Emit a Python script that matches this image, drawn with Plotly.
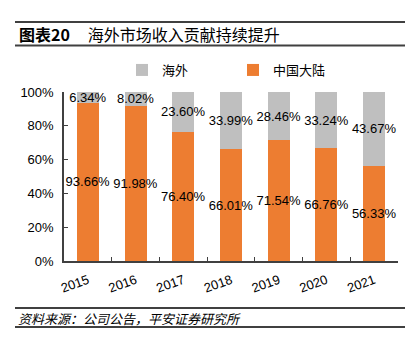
import plotly.graph_objects as go

years = ["2015", "2016", "2017", "2018", "2019", "2020", "2021"]
domestic = [93.66, 91.98, 76.40, 66.01, 71.54, 66.76, 56.33]
overseas = [6.34, 8.02, 23.60, 33.99, 28.46, 33.24, 43.67]
series_names = ["中国大陆", "海外"]
colors = ["#ED7D31", "#BFBFBF"]
y_ticks = [0, 20, 40, 60, 80, 100]
y_tick_labels = ["0%", "20%", "40%", "60%", "80%", "100%"]
title_text = "<b>图表20</b>     海外市场收入贡献持续提升"
source_text = "<i>资料来源：公司公告，平安证券研究所</i>"

FONT = "Liberation Sans, Arial, Noto Sans CJK SC, sans-serif"
CJK = "Noto Sans CJK SC, Liberation Sans, sans-serif"

W, H = 415, 345
L, R, T, B = 64, 17, 92, 84
pw, ph = W - L - R, H - T - B

def px(x):
    return (x - L) / pw

def py(y):
    return (H - B - y) / ph

fig = go.Figure()
for name, vals, col in zip(series_names, [domestic, overseas], colors):
    fig.add_trace(go.Bar(
        x=years, y=vals, name=name,
        marker=dict(color=col, line=dict(width=0)),
        width=0.46,
        texttemplate="%{y:.2f}%",
        textposition="inside",
        insidetextanchor="middle",
        textangle=0,
        constraintext="none",
        insidetextfont=dict(color="#000000", size=13, family=FONT),
        cliponaxis=False,
    ))

fig.update_layout(
    width=W, height=H,
    margin=dict(l=L, r=R, t=T, b=B),
    barmode="stack",
    plot_bgcolor="white", paper_bgcolor="white",
    font=dict(family=FONT, size=13, color="#000000"),
    uniformtext=dict(minsize=13, mode="show"),
    showlegend=True,
    legend=dict(
        orientation="h", traceorder="reversed",
        x=px(122), y=py(70), xanchor="left", yanchor="middle",
        font=dict(family=CJK, size=13, color="#000000"),
        entrywidth=66, entrywidthmode="pixels",
        itemwidth=30, bgcolor="rgba(0,0,0,0)",
    ),
    xaxis=dict(
        showline=True, linecolor="#404040", linewidth=1.5,
        ticks="inside", tickson="boundaries", ticklen=4, tickcolor="#404040",
        tickangle=-20, tickfont=dict(size=13, family=FONT),
        ticklabelstandoff=5,
        showgrid=False, zeroline=False,
    ),
    yaxis=dict(
        range=[0, 100], tickvals=y_ticks, ticktext=y_tick_labels,
        showline=True, linecolor="#404040", linewidth=1.5,
        ticks="inside", ticklen=4, tickcolor="#404040",
        tickfont=dict(size=13, family=FONT),
        ticklabelstandoff=6,
        showgrid=False, zeroline=False,
    ),
)

line_style = dict(color="#404040", width=2)
for yy in (22, 45.5, 308, 327):
    fig.add_shape(type="line", xref="paper", yref="paper",
                  x0=px(15), x1=px(405), y0=py(yy), y1=py(yy),
                  line=line_style)

fig.add_annotation(text=title_text, xref="paper", yref="paper",
                   x=px(17), y=py(34), xanchor="left", yanchor="middle",
                   showarrow=False,
                   font=dict(family=CJK, size=16, color="#000000"))
fig.add_annotation(text=source_text, xref="paper", yref="paper",
                   x=px(16), y=py(318), xanchor="left", yanchor="middle",
                   showarrow=False,
                   font=dict(family=CJK, size=13, color="#000000"))

fig.write_html("out.html")
